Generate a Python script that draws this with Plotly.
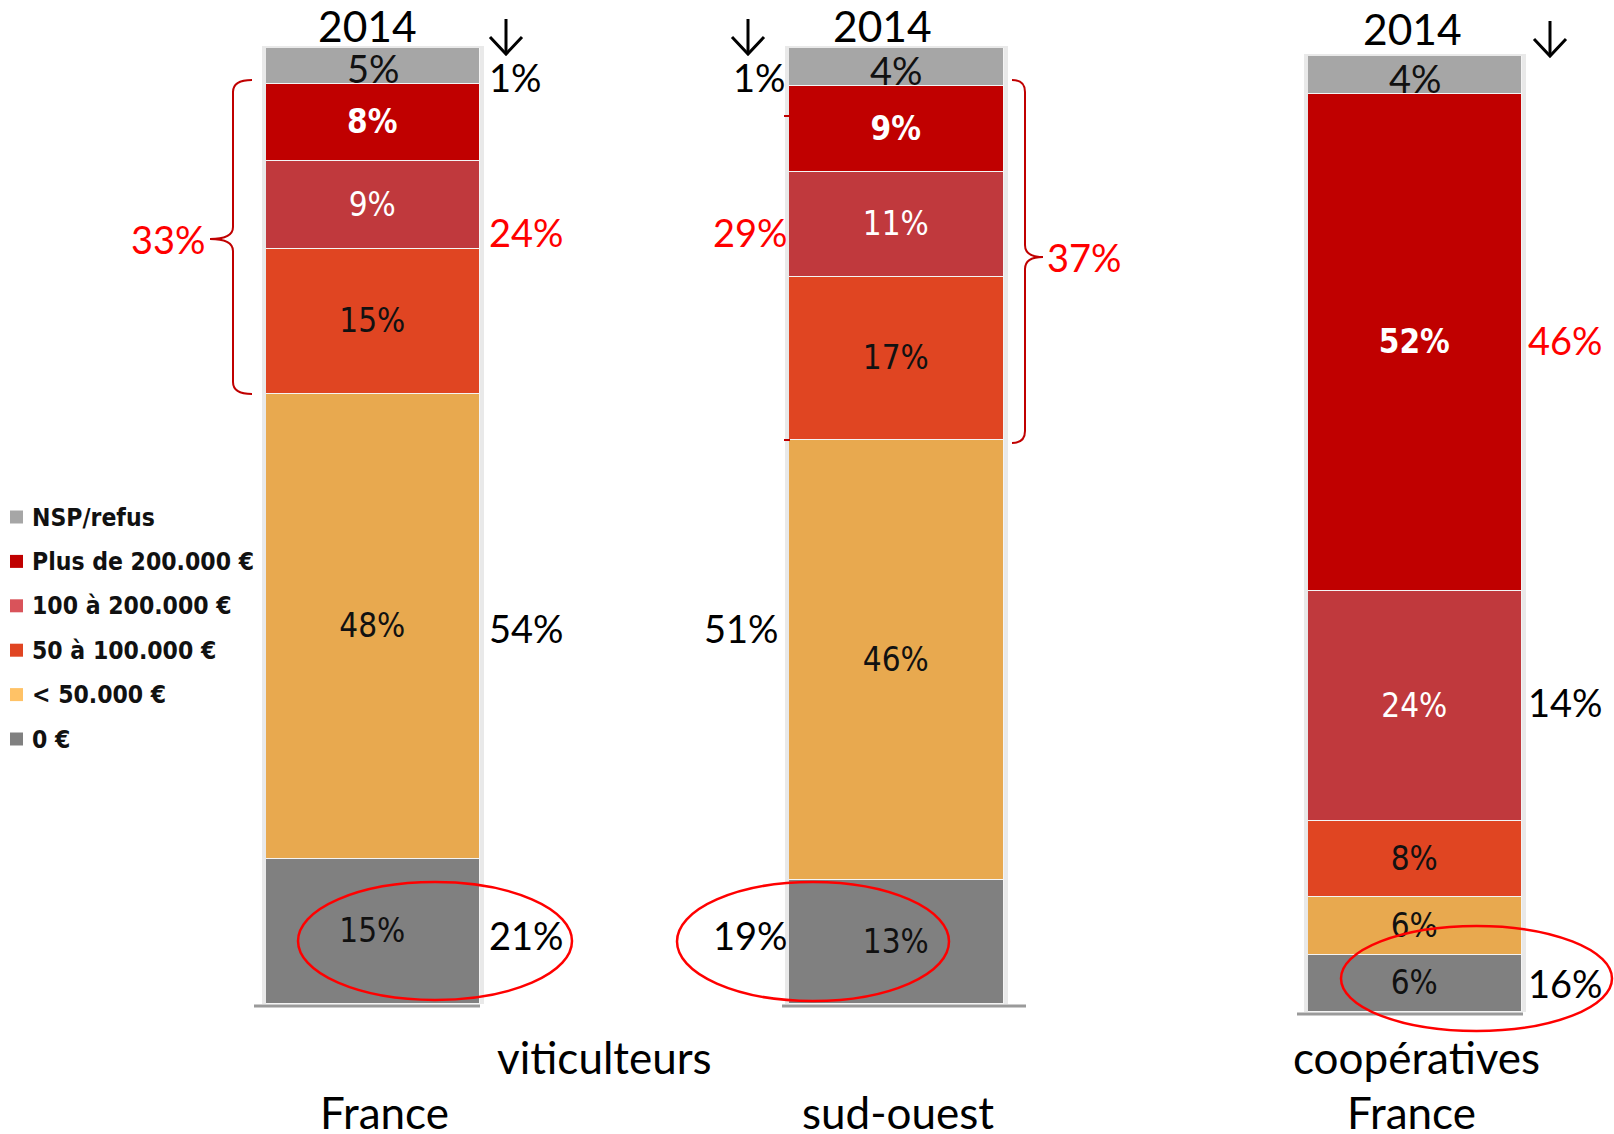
import plotly.graph_objects as go

W, H = 1614, 1134

# ---------------- data ----------------
categories = ["0 €", "< 50.000 €", "50 à 100.000 €", "100 à 200.000 €", "Plus de 200.000 €", "NSP/refus"]
panel_titles = ["2014", "2014", "2014"]
values_france = [15, 48, 15, 9, 8, 5]
values_sudouest = [13, 46, 17, 11, 9, 4]
values_coop = [6, 6, 8, 24, 52, 4]
panels = [values_france, values_sudouest, values_coop]
# visible top of each bar's value axis (France bar is cropped at the top in the original)
axis_tops = [98.7, 100, 100]

bar_colors = ["#808080", "#e8a94f", "#e04522", "#c0393d", "#c00000", "#a6a6a6"]
legend_colors = ["#808080", "#ffc266", "#e04522", "#d9535a", "#c00000", "#a6a6a6"]
label_colors = ["#111111", "#111111", "#111111", "#ffffff", "#ffffff", "#111111"]
label_weights = ["normal", "normal", "normal", "normal", "bold", "normal"]

# side values (evolution vs previous survey)
side_france = ["1%", "24%", "54%", "21%"]
side_sudouest = ["1%", "29%", "51%", "19%"]
side_coop = ["46%", "14%", "16%"]
bracket_totals = ["33%", "37%"]
bottom_labels = ["viticulteurs", "France", "sud-ouest", "coopératives", "France"]

# ---------------- helpers ----------------
def px(x):
    return x / W

def py(y):
    return 1 - y / H

# bar pixel boxes (left, right, top, bottom)
boxes = [(266, 480, 48, 1004), (789, 1004, 48, 1004), (1308, 1522, 56, 1012)]

fig = go.Figure()
NARROW = "Liberation Sans Narrow, DejaVu Sans Condensed, Arial Narrow, sans-serif"
CAL = "Lato, Carlito, Calibri, sans-serif"

ann = []
for p, vals in enumerate(panels):
    ax = "" if p == 0 else str(p + 1)
    for i, cat in enumerate(categories):
        is_nsp = cat == "NSP/refus"
        fig.add_trace(go.Bar(
            x=[0], y=[vals[i]], width=[1],
            name=cat, showlegend=False,
            marker=dict(color=bar_colors[i], line=dict(color="#f4f4f4", width=1.5)),
            text=None if is_nsp else [f"{vals[i]}%"], textposition="inside",
            insidetextanchor="middle",
            textangle=0, constraintext="none",
            textfont=dict(family=NARROW, size=33,
                          color=label_colors[i], weight=label_weights[i]),
            xaxis="x" + ax, yaxis="y" + ax, hoverinfo="skip",
        ))
        if is_nsp:
            # NSP label sits on the segment's lower edge (text larger than the thin segment)
            ann.append(dict(text=f"{vals[i]}%", x=0, y=sum(vals[:i]), xref="x" + ax, yref="y" + ax,
                            showarrow=False, xanchor="center", yanchor="bottom", yshift=-9,
                            font=dict(size=38, family=CAL, color=label_colors[i])))

layout = dict(
    width=W, height=H, margin=dict(l=0, r=0, t=0, b=0),
    paper_bgcolor="white", plot_bgcolor="rgba(0,0,0,0)",
    barmode="stack", bargap=0, showlegend=False,
    font=dict(family=CAL, color="black"),
)
for p, (l, r, t, b) in enumerate(boxes):
    ax = "" if p == 0 else str(p + 1)
    layout["xaxis" + ax] = dict(domain=[px(l), px(r)], range=[-0.5, 0.5], visible=False,
                                fixedrange=True, anchor="y" + ax)
    layout["yaxis" + ax] = dict(domain=[py(b), py(t)], range=[0, axis_tops[p]], visible=False,
                                fixedrange=True, anchor="x" + ax)
fig.update_layout(**layout)

shapes = []

# bar shadows + baselines
for (l, r, t, b) in boxes:
    shapes.append(dict(type="rect", xref="paper", yref="paper", layer="below",
                       x0=px(l - 4), x1=px(r + 4), y0=py(b), y1=py(t - 2),
                       fillcolor="#e9e9e9", line=dict(width=0)))
baselines = [(254, 480, 1006), (782, 1026, 1006), (1297, 1523, 1014)]
for (x0, x1, y) in baselines:
    shapes.append(dict(type="line", xref="paper", yref="paper", x0=px(x0), x1=px(x1),
                       y0=py(y), y1=py(y), line=dict(color="#9a9a9a", width=3)))

# titles
for t, (cx, cy) in zip(panel_titles, [(367, 26), (882, 26), (1412, 29)]):
    ann.append(dict(text=t, x=px(cx), y=py(cy), xref="paper", yref="paper",
                    showarrow=False, font=dict(size=42.5, family=CAL, color="black"),
                    xanchor="center", yanchor="middle"))

# arrows (down)
for (cx, y0, y1) in [(506, 19, 54), (748, 19, 54), (1550, 21, 56)]:
    shapes.append(dict(type="line", xref="paper", yref="paper", x0=px(cx), x1=px(cx),
                       y0=py(y0), y1=py(y1), line=dict(color="black", width=3)))
    shapes.append(dict(type="path", xref="paper", yref="paper",
                       path=f"M {px(cx-16)} {py(y1-17)} L {px(cx)} {py(y1)} L {px(cx+16)} {py(y1-17)}",
                       line=dict(color="black", width=3)))

def side(text, x, y, color="black", anchor="left"):
    ann.append(dict(text=text, x=px(x), y=py(y), xref="paper", yref="paper", showarrow=False,
                    font=dict(size=38, family=CAL, color=color),
                    xanchor=anchor, yanchor="middle"))

RED = "#ff0000"
# France
side(side_france[0], 487, 77)
side(side_france[1], 487, 232, RED)
side(side_france[2], 487, 628)
side(side_france[3], 487, 935)
# sud-ouest
side(side_sudouest[0], 788, 77, anchor="right")
side(side_sudouest[1], 790, 232, RED, anchor="right")
side(side_sudouest[2], 781, 628, anchor="right")
side(side_sudouest[3], 790, 935, anchor="right")
# coop
side(side_coop[0], 1526, 340, RED)
side(side_coop[1], 1526, 702)
side(side_coop[2], 1526, 983)
# bracket totals
side(bracket_totals[0], 208, 239, RED, anchor="right")
side(bracket_totals[1], 1045, 257, RED)

# brackets
BR = "#c00000"
def brace(xs, xe, xt, y0, y1, ym):
    return (f"M {px(xe)} {py(y0)} Q {px(xs)} {py(y0)} {px(xs)} {py(y0+12)} "
            f"L {px(xs)} {py(ym-12)} Q {px(xs)} {py(ym)} {px(xt)} {py(ym)} "
            f"Q {px(xs)} {py(ym)} {px(xs)} {py(ym+12)} "
            f"L {px(xs)} {py(y1-12)} Q {px(xs)} {py(y1)} {px(xe)} {py(y1)}")
shapes.append(dict(type="path", xref="paper", yref="paper",
                   path=brace(233, 252, 210, 80, 394, 239), line=dict(color=BR, width=2)))
shapes.append(dict(type="path", xref="paper", yref="paper",
                   path=brace(1025, 1012, 1043, 80, 443, 257), line=dict(color=BR, width=2)))
# tiny red marks left of sud-ouest bar
for y in (116, 440):
    shapes.append(dict(type="line", xref="paper", yref="paper", x0=px(784), x1=px(790),
                       y0=py(y), y1=py(y), line=dict(color=BR, width=2)))

# ellipses
for (x0, x1, y0, y1) in [(298, 572, 882, 1000), (677, 949, 882, 1001), (1341, 1612, 926, 1031)]:
    shapes.append(dict(type="circle", xref="paper", yref="paper", x0=px(x0), x1=px(x1),
                       y0=py(y1), y1=py(y0), line=dict(color=RED, width=2.5)))

# legend (manual)
leg_order = list(reversed(range(len(categories))))
for k, i in enumerate(leg_order):
    cy = 517 + k * 44.4
    shapes.append(dict(type="rect", xref="paper", yref="paper", x0=px(10), x1=px(23),
                       y0=py(cy + 6.5), y1=py(cy - 6.5), fillcolor=legend_colors[i],
                       line=dict(width=0)))
    ann.append(dict(text=categories[i], x=px(30), y=py(cy), xref="paper", yref="paper",
                    showarrow=False, xanchor="left", yanchor="middle",
                    font=dict(size=24.5, family="DejaVu Sans Condensed, DejaVu Sans", color="#111111",
                              weight="bold")))

# bottom labels
for t, (cx, cy) in zip(bottom_labels, [(604, 1057), (384, 1112), (898, 1112), (1416, 1057), (1411, 1112)]):
    ann.append(dict(text=t, x=px(cx), y=py(cy), xref="paper", yref="paper", showarrow=False,
                    font=dict(size=44, family=CAL, color="black"), xanchor="center", yanchor="middle"))

fig.update_layout(shapes=shapes, annotations=ann)
fig.write_html("out.html", config={"displayModeBar": False},
               post_script="document.body.style.margin='0px';document.body.style.overflow='hidden';")
